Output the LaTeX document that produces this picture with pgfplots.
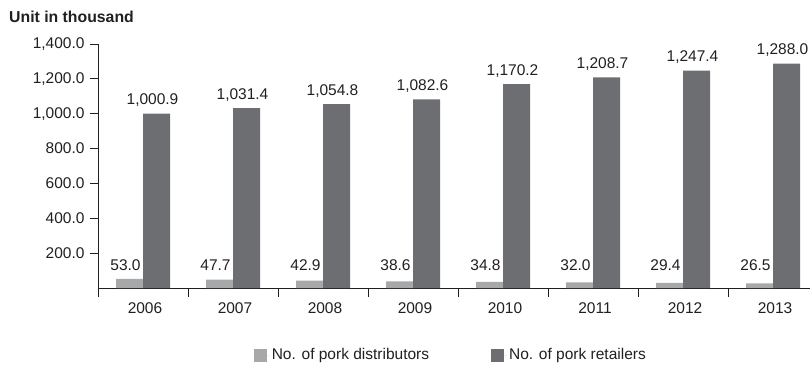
\documentclass[border=0pt]{standalone}
\usepackage{pgfplots}
\pgfplotsset{compat=1.18}
\usepackage{fontspec}
\setmainfont{Liberation Sans}
\definecolor{txt}{HTML}{231F20}
\definecolor{cdist}{HTML}{A7A8AA}
\definecolor{cret}{HTML}{6D6E71}
\begin{document}
\begin{tikzpicture}[font=\fontsize{15.5pt}{18pt}\selectfont]
\path[use as bounding box] (0,0) rectangle (810pt,367pt);
\clip (0,0) rectangle (810pt,367pt);
\node[anchor=base west, font=\fontsize{15.8pt}{18pt}\selectfont\bfseries, text=txt, inner sep=0pt] at (9pt,344pt) {Unit in thousand};
\begin{axis}[
  at={(98pt,79pt)}, anchor=south west,
  scale only axis, width=720pt, height=244pt,
  xmin=-0.5, xmax=7.5, ymin=0, ymax=1400,
  axis lines*=left,
  axis line style={line width=0.8pt, color=txt},
  ybar=0pt, bar width=27pt,
  tick align=outside,
  xtick={0,...,7},
  xticklabels={2006,2007,2008,2009,2010,2011,2012,2013},
  xticklabel style={xshift=2pt, yshift=-3pt},
  major x tick style={draw=none},
  minor xtick={-0.5,0.5,...,7.5},
  minor x tick style={line width=0.8pt, color=txt},
  minor tick length=9pt,
  ytick={200,400,...,1400},
  yticklabel style={xshift=-2pt},
  y tick style={line width=0.8pt, color=txt},
  major tick length=8pt,
  tick label style={font=\fontsize{15.5pt}{18pt}\selectfont, text=txt},
  /pgf/number format/assume math mode=true,
  /pgf/number format/.cd, fixed, fixed zerofill, precision=1, 1000 sep={,},
  /pgfplots/.cd,
  nodes near coords,
  every node near coord/.append style={font=\fontsize{15.5pt}{18pt}\selectfont, text=txt, anchor=base, xshift=-4pt, inner sep=0pt},
  legend columns=2,
  legend style={draw=none, fill=none, at={(0.49,-0.275)}, anchor=center,
    font=\fontsize{15.5pt}{18pt}\selectfont, text=txt,
    /tikz/every even column/.append style={column sep=60pt}},
  legend image code/.code={\path (0pt,0pt) -- (16pt,0pt); \fill[#1] (0pt,-6.5pt) rectangle (13pt,6.5pt);},
]
\addplot[fill=cdist, draw=none,
  visualization depends on={rawy \as \rawy},
  every node near coord/.append style={yshift={(18-0.17429*\rawy)*1pt}}]
  coordinates {(0,53.0) (1,47.7) (2,42.9) (3,38.6) (4,34.8) (5,32.0) (6,29.4) (7,26.5)};
\addplot[fill=cret, draw=none,
  every node near coord/.append style={yshift=9pt}]
  coordinates {(0,1000.9) (1,1031.4) (2,1054.8) (3,1082.6) (4,1170.2) (5,1208.7) (6,1247.4) (7,1288.0)};
\legend{No. of pork distributors, No. of pork retailers}
\end{axis}
\end{tikzpicture}
\end{document}
